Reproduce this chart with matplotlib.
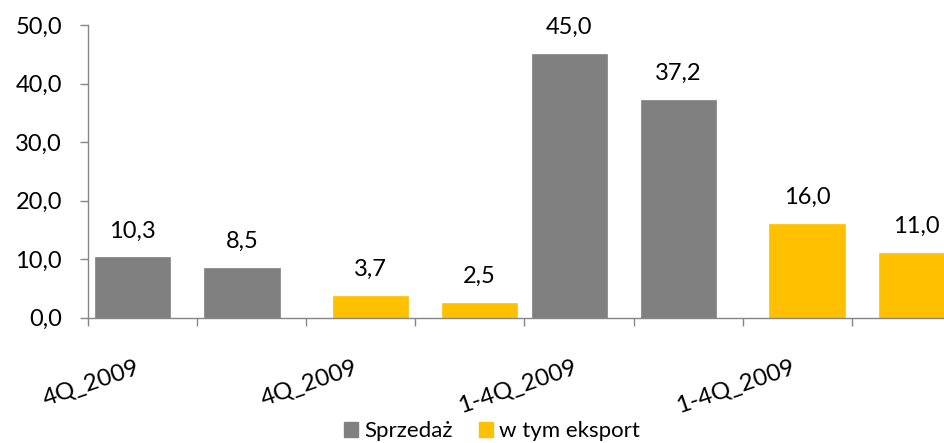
import matplotlib
matplotlib.use("Agg")
import matplotlib.pyplot as plt
from matplotlib.patches import Patch
import numpy as np

plt.rcParams['font.family'] = ['Lato', 'DejaVu Sans']

categories = ["4Q_2009", "", "4Q_2009", "", "1-4Q_2009", "", "1-4Q_2009", ""]
sprzedaz = [10.3, 8.5, None, None, 45.0, 37.2, None, None]
eksport = [None, None, 3.7, 2.5, None, None, 16.0, 11.0]
series_names = ["Sprzedaż", "w tym eksport"]
yticks = [0, 10, 20, 30, 40, 50]

GRAY = "#808080"
YELLOW = "#FFC000"
AXIS = "#868686"
FS = 17

fig = plt.figure(figsize=(9.45, 4.43), dpi=100)
ax = fig.add_axes([87.7 / 945, 1 - 317.7 / 443, 873.5 / 945, (317.7 - 25) / 443])

n = len(categories)
x = np.arange(n)
width = 0.69
off = 0.088

def draw(vals, offset, color):
    xs = [xi + offset for xi, v in zip(x, vals) if v is not None]
    hs = [v for v in vals if v is not None]
    bars = ax.bar(xs, hs, width=width, color=color, edgecolor=color, linewidth=0.5, zorder=2)
    for bx, h in zip(xs, hs):
        ax.annotate(f"{h:.1f}".replace(".", ","), (bx, h), xytext=(0, 14.4),
                    textcoords="offset points", ha="center", va="baseline",
                    fontsize=FS, color="#000000")
    return bars

draw(sprzedaz, -off, GRAY)
draw(eksport, off, YELLOW)

ax.set_xlim(-0.5, n - 0.5)
ax.set_ylim(0, 50)

for s in ["top", "right"]:
    ax.spines[s].set_visible(False)
for s in ["left", "bottom"]:
    ax.spines[s].set_color(AXIS)
    ax.spines[s].set_linewidth(1.0)

ax.set_yticks(yticks)
ax.set_yticklabels([f"{v:.1f}".replace(".", ",") for v in yticks], fontsize=FS)
ax.tick_params(axis="y", direction="out", length=5.5, width=1.0, color=AXIS, pad=13)

ax.set_xticks(np.arange(n + 1) - 0.5)
ax.set_xticklabels([])
ax.tick_params(axis="x", which="major", direction="out", length=5.5, width=1.0, color=AXIS)
lab_pos = [i for i, c in enumerate(categories) if c]
ax.set_xticks(lab_pos, minor=True)
ax.set_xticklabels([categories[i] for i in lab_pos], minor=True, rotation=19,
                   ha="right", va="top", fontsize=17.5)
ax.tick_params(axis="x", which="minor", length=0, pad=28)

handles = [Patch(facecolor=GRAY, edgecolor=GRAY), Patch(facecolor=YELLOW, edgecolor=YELLOW)]
fig.legend(handles, series_names, loc="center", bbox_to_anchor=(492 / 945, 1 - 431 / 443),
           ncol=2, frameon=False, fontsize=16, handlelength=0.63, handleheight=0.68,
           handletextpad=0.27, columnspacing=1.2, borderpad=0)

fig.savefig("out.png", dpi=100)
